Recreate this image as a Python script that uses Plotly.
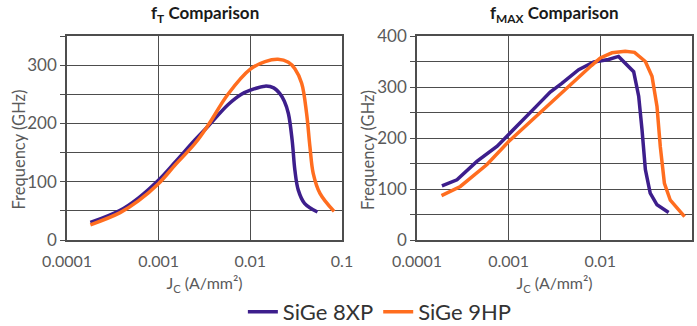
import plotly.graph_objects as go

# ---- data ----
ft_8xp_x = [1.8e-4, 3.8e-4, 6e-4, 1e-3, 1.5e-3, 2.5e-3, 3.5e-3, 5.7e-3, 8e-3, 1e-2, 1.45e-2, 1.8e-2,
            2.1e-2, 2.35e-2, 2.6e-2, 2.86e-2, 3.06e-2, 3.33e-2, 3.9e-2, 5.4e-2]
ft_8xp_y = [30, 51, 72, 103, 133, 172, 196, 232, 250, 257, 264, 261,
            251, 238, 217, 171, 120, 86, 63, 48]

ft_9hp_x = [1.8e-4, 3.8e-4, 6e-4, 1e-3, 1.5e-3, 2.5e-3, 3.5e-3, 5.7e-3, 1e-2, 1.45e-2, 2.0e-2, 2.6e-2,
            3.06e-2, 3.63e-2, 4.11e-2, 4.47e-2, 4.86e-2, 5.75e-2, 8.2e-2]
ft_9hp_y = [26, 47, 67, 97, 128, 166, 198, 250, 293, 306, 310, 305,
            294, 269, 217, 160, 114, 80, 49]

fmax_8xp_x = [1.87e-4, 2.73e-4, 4.5e-4, 7.5e-4, 1e-3, 1.34e-3, 2.0e-3, 2.84e-3, 3.8e-3, 5.8e-3, 8.5e-3,
              1.23e-2, 1.58e-2, 2.31e-2, 2.62e-2, 2.85e-2, 3.1e-2, 3.5e-2, 4.15e-2, 5.56e-2]
fmax_8xp_y = [106, 118, 154, 184, 207, 231, 262, 290, 307, 334, 349,
              354, 360, 330, 282, 216, 138, 92, 69, 54]

fmax_9hp_x = [1.85e-4, 2.97e-4, 5.8e-4, 1e-3, 1.5e-3, 2.5e-3, 4e-3, 5.8e-3, 8e-3, 1e-2, 1.34e-2,
              1.87e-2, 2.36e-2, 3.1e-2, 3.66e-2, 4.15e-2, 4.51e-2, 5e-2, 5.8e-2, 8.3e-2]
fmax_9hp_y = [87, 105, 148, 193, 222, 259, 292, 321, 342, 357, 367,
              370, 368, 350, 321, 262, 183, 111, 78, 46]

x_tickvals = [1e-4, 1e-3, 1e-2, 1e-1]
x_ticktext = ["0.0001", "0.001", "0.01", "0.1"]
ft_tickvals = [0, 100, 200, 300]
fmax_tickvals = [0, 100, 200, 300, 400]

PURPLE = "#3d1e8c"
ORANGE = "#ff6d1f"
FONT = "Lato"
GRID = "#4d4d4d"
TXT = "#5a5a5a"

fig = go.Figure()
fig.add_trace(go.Scatter(x=ft_8xp_x, y=ft_8xp_y, mode="lines", name="SiGe 8XP",
                         line=dict(color=PURPLE, width=3.5, shape="spline", smoothing=1.0),
                         xaxis="x", yaxis="y", legendrank=1))
fig.add_trace(go.Scatter(x=ft_9hp_x, y=ft_9hp_y, mode="lines", name="SiGe 9HP",
                         line=dict(color=ORANGE, width=3.5, shape="spline", smoothing=1.0),
                         xaxis="x", yaxis="y", legendrank=2))
fig.add_trace(go.Scatter(x=fmax_8xp_x, y=fmax_8xp_y, mode="lines", name="SiGe 8XP", showlegend=False,
                         line=dict(color=PURPLE, width=3.5), xaxis="x2", yaxis="y2"))
fig.add_trace(go.Scatter(x=fmax_9hp_x, y=fmax_9hp_y, mode="lines", name="SiGe 9HP", showlegend=False,
                         line=dict(color=ORANGE, width=3.5), xaxis="x2", yaxis="y2"))

W, H = 697, 326
L_x0, L_x1 = 67 / W, 342 / W
R_x0, R_x1 = 417 / W, 692 / W
Y0, Y1 = (H - 240) / H, (H - 36) / H

xcommon = dict(type="log", range=[-4, -1], tickvals=x_tickvals, ticktext=x_ticktext,
               showgrid=True, gridcolor=GRID, gridwidth=1, showline=True, linecolor=GRID,
               linewidth=1.5, mirror=True, ticks="outside", ticklen=6, tickcolor="rgba(0,0,0,0)",
               zeroline=False, automargin=False,
               tickfont=dict(family=FONT, size=16, color=TXT),
               title=dict(text="J<sub>C</sub> (A/mm²)", font=dict(family=FONT, size=16, color=TXT),
                          standoff=9))
ycommon = dict(showgrid=True, gridcolor=GRID, gridwidth=1, showline=True, linecolor=GRID,
               linewidth=1.5, mirror=True, ticks="outside", ticklen=5, tickcolor=GRID,
               zeroline=False, automargin=False, tickfont=dict(family=FONT, size=17, color=TXT),
               minor=dict(dtick=50, showgrid=True, gridcolor=GRID, gridwidth=1,
                          ticks="outside", ticklen=5, tickcolor=GRID))

fig.update_layout(
    width=W, height=H, autosize=False,
    margin=dict(l=0, r=0, t=0, b=0, autoexpand=False),
    paper_bgcolor="white", plot_bgcolor="white",
    font=dict(family=FONT, color=TXT),
    xaxis=dict(domain=[L_x0, L_x1], anchor="y", **xcommon),
    yaxis=dict(domain=[Y0, Y1], anchor="x", range=[0, 350], tickvals=ft_tickvals, **ycommon),
    xaxis2=dict(domain=[R_x0, R_x1], anchor="y2", **xcommon),
    yaxis2=dict(domain=[Y0, Y1], anchor="x2", range=[0, 400], tickvals=fmax_tickvals, **ycommon),
    showlegend=True,
    legend=dict(orientation="h", x=0.545, xanchor="center", y=14 / H, yanchor="middle",
                font=dict(family=FONT, size=22, color="#333333"), itemwidth=30,
                bgcolor="rgba(0,0,0,0)", borderwidth=0),
    annotations=[
        dict(text="<b>f<sub>T</sub> Comparison</b>", x=(L_x0 + L_x1) / 2, y=(H - 14) / H,
             xref="paper", yref="paper", showarrow=False, xanchor="center", yanchor="middle",
             font=dict(family=FONT, size=17, color="#1a1a1a")),
        dict(text="<b>f<sub>MAX</sub> Comparison</b>", x=(R_x0 + R_x1) / 2, y=(H - 14) / H,
             xref="paper", yref="paper", showarrow=False, xanchor="center", yanchor="middle",
             font=dict(family=FONT, size=17, color="#1a1a1a")),
        dict(text="Frequency (GHz)", x=18.5 / W, y=(H - 150) / H, xref="paper", yref="paper",
             showarrow=False, textangle=-90, xanchor="center", yanchor="middle",
             font=dict(family=FONT, size=16.5, color=TXT)),
        dict(text="Frequency (GHz)", x=368 / W, y=(H - 150) / H, xref="paper", yref="paper",
             showarrow=False, textangle=-90, xanchor="center", yanchor="middle",
             font=dict(family=FONT, size=16.5, color=TXT)),
    ],
)

fig.write_html("out.html", config={"displayModeBar": False},
               post_script="document.body.style.margin='0';document.body.style.padding='0';"
                           "document.body.style.overflow='hidden';")
